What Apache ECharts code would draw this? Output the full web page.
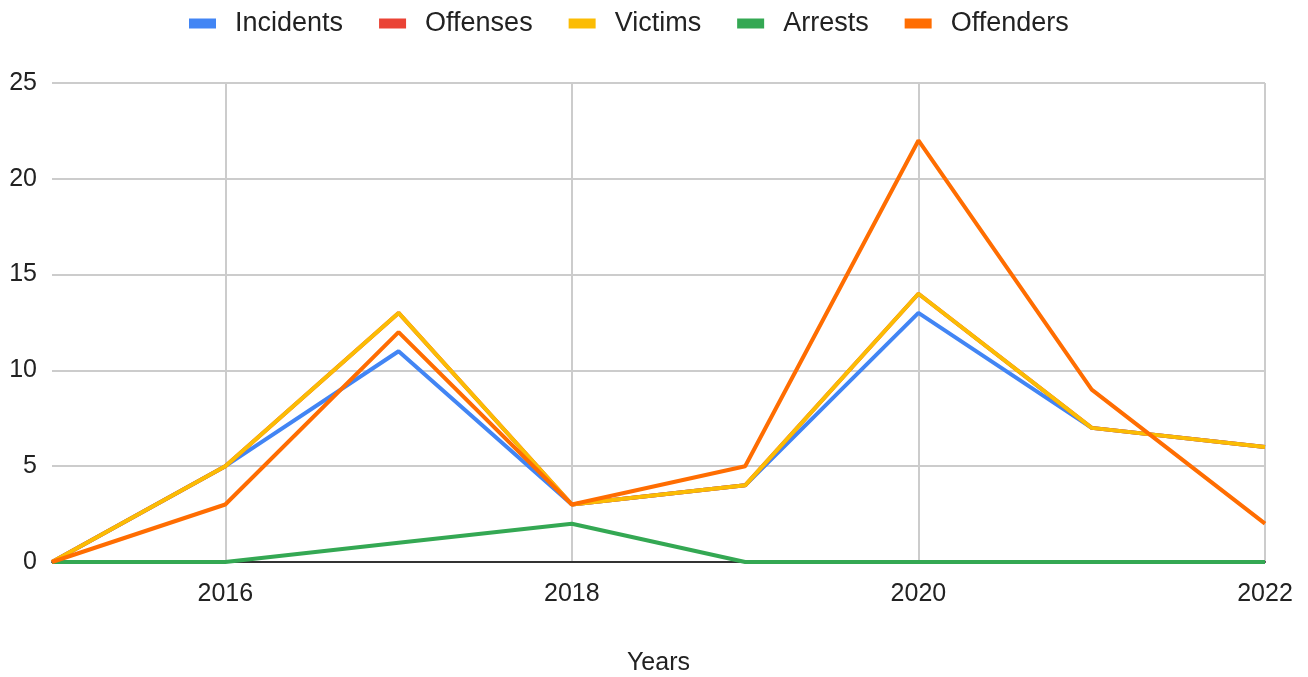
<!DOCTYPE html>
<html><head><meta charset="utf-8">
<script src="https://cdn.jsdelivr.net/npm/echarts@6/dist/echarts.min.js"></script>
<style>html,body{margin:0;padding:0;background:#fff}#c{width:1308px;height:677px}</style>
</head><body><div id="c"></div>
<script>
const years = ['2015','2016','2017','2018','2019','2020','2021','2022'];
const incidents = [0,5,11,3,4,13,7,6];
const offenses  = [0,5,13,3,4,14,7,6];
const victims   = [0,5,13,3,4,14,7,6];
const arrests   = [0,0,1,2,0,0,0,0];
const offenders = [0,3,12,3,5,22,9,2];
const seriesNames = ['Incidents','Offenses','Victims','Arrests','Offenders'];
const seriesData = [incidents, offenses, victims, arrests, offenders];
const colors = ['#4285F4','#EA4335','#FBBC04','#34A853','#FF6D01'];
const font = 'Liberation Sans, Arial, sans-serif';
const chart = echarts.init(document.getElementById('c'));
chart.setOption({
  animation:false,
  color: colors,
  legend:{top:5,left:184,itemWidth:27,itemHeight:10,itemGap:36,icon:'rect',
    textStyle:{fontFamily:font,fontSize:27,color:'#222',padding:[0,0,0,14]}},
  grid:{left:52,right:43,top:83,bottom:115,containLabel:false,outerBoundsMode:'none'},
  xAxis:{type:'category',data:years,boundaryGap:false,
    axisLine:{lineStyle:{color:'#333',width:2}},axisTick:{show:false},
    axisLabel:{interval:(i,v)=>Number(v)%2===0,fontFamily:font,fontSize:25,color:'#222',margin:20},
    splitLine:{show:true,interval:(i,v)=>Number(v)%2===0,lineStyle:{color:'#ccc',width:2}},
    name:'Years',nameLocation:'middle',nameGap:89,nameTextStyle:{fontFamily:font,fontSize:25,color:'#222'}},
  yAxis:{type:'value',min:0,max:25,interval:5,
    axisLine:{show:false},axisTick:{show:false},
    axisLabel:{fontFamily:font,fontSize:25,color:'#222',margin:15},
    splitLine:{lineStyle:{color:'#ccc',width:2}}},
  series: seriesNames.map((n,i)=>({name:n,type:'line',data:seriesData[i],symbol:'none',
    lineStyle:{width:4,color:colors[i]},itemStyle:{color:colors[i]}}))
});
</script></body></html>
